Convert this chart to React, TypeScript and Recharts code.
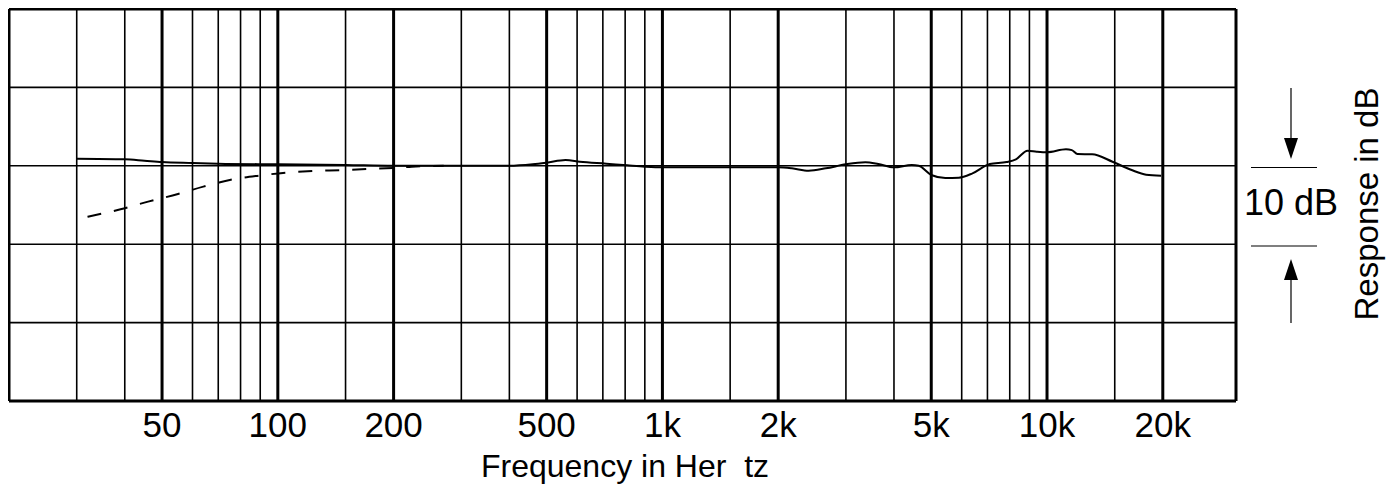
import React from 'react';
import { LineChart, Line, XAxis, YAxis, ReferenceLine } from 'recharts';

// frequency response (Hz / dB)
const solidFreq = [30, 40, 45, 50, 60, 70, 100, 150, 200, 300, 400, 460, 500, 560, 610, 715, 810, 900, 1000, 1500, 2000, 2170, 2400, 2660, 3000, 3370, 3640, 4000, 4450, 4640, 5000, 5440, 5900, 6400, 7100, 7850, 8300, 8900, 9400, 10000, 11200, 11600, 12000, 13100, 14800, 16600, 18100, 19800];
const solidDb = [0.9, 0.83, 0.65, 0.48, 0.36, 0.27, 0.19, 0.1, 0, 0, 0, 0.19, 0.4, 0.74, 0.52, 0.27, 0.06, -0.11, -0.2, -0.2, -0.2, -0.32, -0.62, -0.32, 0.19, 0.45, 0.23, -0.2, 0.1, 0, -1.17, -1.56, -1.52, -0.96, 0.23, 0.48, 0.83, 1.93, 1.8, 1.72, 2.1, 2.0, 1.5, 1.47, 0.52, -0.54, -1.13, -1.26];

// low-cut (dashed) branch
const dashFreq = [32, 39, 46, 55, 64, 75, 89, 105, 123, 147, 171, 204, 223, 270];
const dashDb = [-6.5, -5.55, -4.57, -3.6, -2.66, -1.81, -1.26, -0.88, -0.66, -0.54, -0.41, -0.24, -0.11, 0];

const tickFreqs = [50, 100, 200, 500, 1000, 2000, 5000, 10000, 20000];
const gridFreqs = [30, 40, 50, 60, 70, 80, 90, 100, 150, 200, 300, 400, 500, 600, 700, 800, 900, 1000, 1500, 2000, 3000, 4000, 5000, 6000, 7000, 8000, 9000, 10000, 15000, 20000];
const gridDb = [10, 0, -10, -20];
const xDomain = [20, 31000];
const yDomain = [-30, 20];

const solidData = solidFreq.map((f, i) => ({ f, db: solidDb[i] }));
const dashData = dashFreq.map((f, i) => ({ f, db: dashDb[i] }));

const fmt = (v: number) => (v >= 1000 ? `${v / 1000}k` : `${v}`);
const font = '"Liberation Sans", Arial, Helvetica, sans-serif';

export default function App() {
  const W = 1379;
  const H = 477;
  return (
    <div style={{ position: 'relative', width: W, height: H }}>
      <LineChart width={W} height={H} margin={{ top: 1, left: 1, right: 151, bottom: 0 }}>
        <XAxis
          type="number"
          dataKey="f"
          scale="log"
          domain={xDomain}
          ticks={tickFreqs}
          tickFormatter={fmt}
          allowDataOverflow
          axisLine={false}
          tickLine={false}
          tickMargin={5}
          height={84}
          tick={{ fill: '#000', fontSize: 35, fontFamily: font }}
        />
        <YAxis type="number" domain={yDomain} hide allowDataOverflow />
        {gridFreqs.map((f) => (
          <ReferenceLine
            key={'v' + f}
            x={f}
            stroke="#000"
            strokeWidth={tickFreqs.includes(f) ? 3 : 1.6}
          />
        ))}
        {gridDb.map((d) => (
          <ReferenceLine key={'h' + d} y={d} stroke="#000" strokeWidth={1.6} />
        ))}
        <ReferenceLine x={xDomain[0]} stroke="#000" strokeWidth={3} />
        <ReferenceLine x={xDomain[1]} stroke="#000" strokeWidth={3} />
        <ReferenceLine y={yDomain[0]} stroke="#000" strokeWidth={3} />
        <ReferenceLine y={yDomain[1]} stroke="#000" strokeWidth={3} />
        <Line
          data={dashData}
          dataKey="db"
          type="monotone"
          stroke="#000"
          strokeWidth={2}
          strokeDasharray="14 13"
          dot={false}
          isAnimationActive={false}
        />
        <Line
          data={solidData}
          dataKey="db"
          type="monotone"
          stroke="#000"
          strokeWidth={2}
          dot={false}
          isAnimationActive={false}
        />
      </LineChart>
      <svg
        width={W}
        height={H}
        style={{ position: 'absolute', left: 0, top: 0, pointerEvents: 'none' }}
        fontFamily={font}
      >
        <text x={617} y={469} fontSize={32} textAnchor="middle" fill="#000" style={{ whiteSpace: 'pre' }}>
          {'Frequency in Her  tz'}
        </text>
        {/* 10 dB scale marker */}
        <line x1={1243} x2={1309} y1={159.5} y2={159.5} stroke="#000" strokeWidth={1.2} />
        <line x1={1243} x2={1309} y1={238} y2={238} stroke="#000" strokeWidth={1.2} />
        <line x1={1283} x2={1283} y1={80} y2={135} stroke="#000" strokeWidth={1.2} />
        <polygon points="1276,130 1290,130 1283,151" fill="#000" />
        <line x1={1283} x2={1283} y1={270} y2={315} stroke="#000" strokeWidth={1.2} />
        <polygon points="1276,272 1290,272 1283,251" fill="#000" />
        <text x={1283} y={207} fontSize={36} textAnchor="middle" fill="#000">10 dB</text>
        <text
          x={1370}
          y={196}
          fontSize={33}
          textAnchor="middle"
          fill="#000"
          transform="rotate(-90 1370 196)"
        >
          Response in dB
        </text>
      </svg>
    </div>
  );
}
